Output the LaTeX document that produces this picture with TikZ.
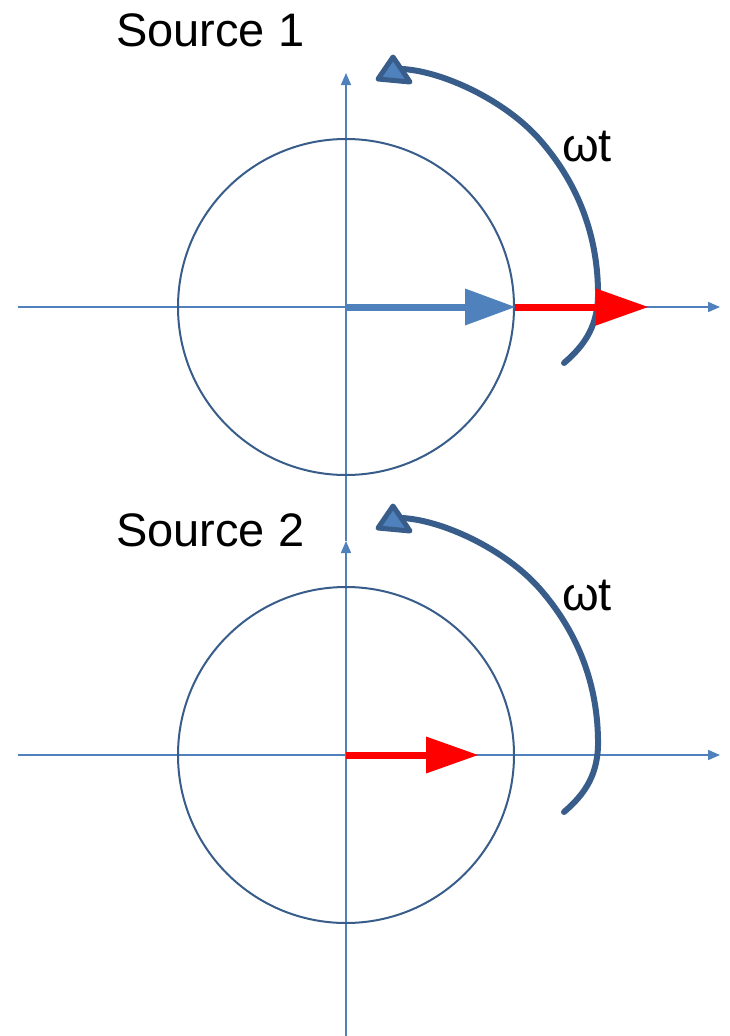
\documentclass[tikz,border=0pt]{standalone}
\usepackage{fontspec}
\setmainfont{Liberation Sans}
\usetikzlibrary{arrows.meta}
\definecolor{axisblue}{HTML}{4F81BD}
\definecolor{ringblue}{HTML}{385D8A}
\definecolor{vecred}{HTML}{FF0000}
\tikzset{
  axisline/.style={draw=axisblue,line width=1.5pt,-{Triangle[length=12pt,width=10pt]}},
  ring/.style={draw=ringblue,line width=2pt},
  vecblue/.style={draw=axisblue,line width=7pt,-{Triangle[length=50pt,width=37pt,line width=0pt]}},
  vecredarr/.style={draw=vecred,line width=7pt,-{Triangle[length=52pt,width=37pt,line width=0pt]}},
  phasearc/.style={draw=ringblue,line width=6pt,line cap=round},
  archead/.style={draw=ringblue,fill=axisblue,line width=5pt,line join=round},
  srclabel/.style={anchor=base west,inner sep=0pt,font=\fontsize{47}{54}\selectfont},
}

\begin{document}
\begin{tikzpicture}[x=1pt,y=1pt]
\useasboundingbox (0,0) rectangle (730,-1036);

% source 1
\coordinate (o1) at (346,-307);
\coordinate (x1l) at (18,-307);
\coordinate (x1r) at (720,-307);
\coordinate (y1b) at (346,-541);
\coordinate (y1t) at (346,-73);
\coordinate (p1) at (515,-307);
\coordinate (q1) at (648,-307);
\coordinate (a1s) at (564,-363);
\coordinate (a1m) at (598,-290);
\coordinate (a1n) at (540,-140);
\coordinate (a1e) at (402,-69);
\coordinate (h1a) at (393,-57);
\coordinate (h1b) at (378,-79);
\coordinate (h1c) at (410,-82);
\node[srclabel] (src1) at (116,-46) {Source 1};
\node[srclabel] (wt1) at (562,-161) {ωt};

\draw[axisline] (x1l) -- (x1r);
\draw[axisline] (y1b) -- (y1t);
\draw[ring] (o1) circle[radius=168pt];
\draw[phasearc] (a1s) .. controls +(21,18) and +(1,-35) .. (a1m)
  .. controls +(-1,60) and +(35,-40) .. (a1n)
  .. controls +(-35,40) and +(40,-2) .. (a1e);
\draw[archead] (h1a) -- (h1b) -- (h1c) -- cycle;
\draw[vecblue] (o1) -- (p1);
\draw[vecredarr] (p1) -- (q1);

% source 2
\coordinate (o2) at (346,-755);
\coordinate (x2l) at (18,-755);
\coordinate (x2r) at (720,-755);
\coordinate (y2b) at (346,-1040);
\coordinate (y2t) at (346,-541);
\coordinate (p2) at (478,-755);
\coordinate (a2s) at (564,-812);
\coordinate (a2m) at (598,-739);
\coordinate (a2n) at (540,-589);
\coordinate (a2e) at (402,-518);
\coordinate (h2a) at (393,-506);
\coordinate (h2b) at (378,-528);
\coordinate (h2c) at (410,-531);
\node[srclabel] (src2) at (116,-546) {Source 2};
\node[srclabel] (wt2) at (562,-610) {ωt};

\draw[axisline] (x2l) -- (x2r);
\draw[axisline] (y2b) -- (y2t);
\draw[ring] (o2) circle[radius=168pt];
\draw[phasearc] (a2s) .. controls +(21,18) and +(1,-35) .. (a2m)
  .. controls +(-1,60) and +(35,-40) .. (a2n)
  .. controls +(-35,40) and +(40,-2) .. (a2e);
\draw[archead] (h2a) -- (h2b) -- (h2c) -- cycle;
\draw[vecredarr] (o2) -- (p2);

\end{tikzpicture}
\end{document}
